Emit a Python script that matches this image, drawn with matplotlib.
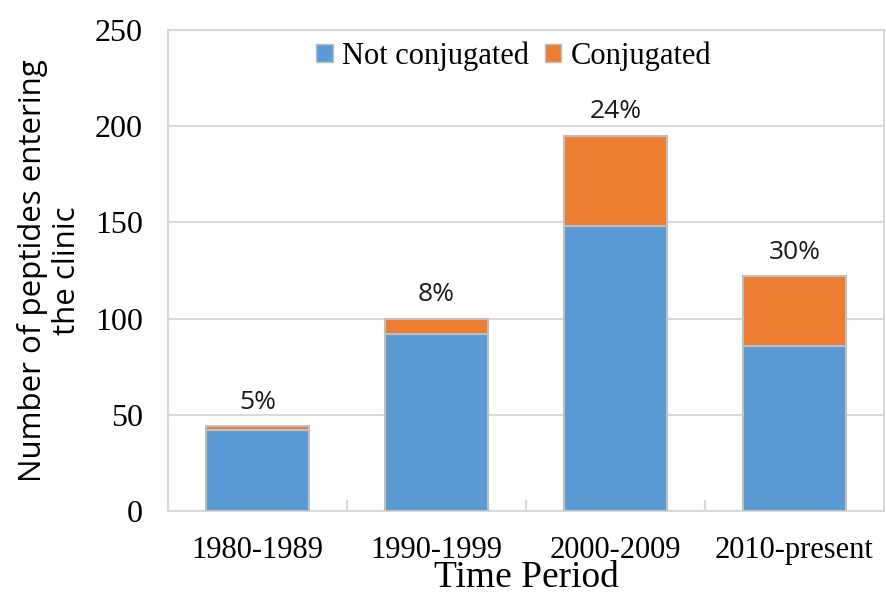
import numpy as np
import matplotlib
matplotlib.use('Agg')
import matplotlib.pyplot as plt
from matplotlib.ticker import FixedLocator, NullFormatter

# Data
periods = ["1980-1989", "1990-1999", "2000-2009", "2010-present"]
not_conjugated = [42, 92, 148, 86]
conjugated = [2, 8, 47, 36]
pct_labels = ["5%", "8%", "24%", "30%"]

blue = "#5B9BD5"
orange = "#ED7D31"
edge = "#BFBFBF"
grid_c = "#D9D9D9"

fig = plt.figure(figsize=(8.87, 5.94), dpi=100)
ax = fig.add_axes([168/887, 1 - 511/594, (884 - 168)/887, (511 - 30)/594])

x = np.arange(len(periods))
w = 0.57
ax.bar(x, not_conjugated, w, color=blue, edgecolor=edge, linewidth=1.5,
       label="Not conjugated", zorder=3)
ax.bar(x, conjugated, w, bottom=not_conjugated, color=orange, edgecolor=edge,
       linewidth=1.5, label="Conjugated", zorder=3)

totals = [a + b for a, b in zip(not_conjugated, conjugated)]
for xi, t, lab in zip(x, totals, pct_labels):
    ax.text(xi, t + 12.5, lab, ha="center", va="center", fontsize=19,
            family="Open Sans", color="#1a1a1a")

ax.set_xlim(-0.5, len(periods) - 0.5)
ax.set_ylim(0, 250)
ax.set_yticks(np.arange(0, 251, 50))
ax.yaxis.grid(True, color=grid_c, linewidth=1.5, zorder=0)
ax.set_axisbelow(True)

for s in ax.spines.values():
    s.set_color(grid_c)
    s.set_linewidth(1.5)

ax.set_xticks(x)
ax.set_xticklabels(periods, family="Liberation Serif", fontsize=22)
ax.xaxis.set_minor_locator(FixedLocator(np.arange(0.5, len(periods) - 1, 1.0)))
ax.xaxis.set_minor_formatter(NullFormatter())
ax.tick_params(axis="x", which="major", length=0, pad=18)
ax.tick_params(axis="x", which="minor", direction="in", length=8, width=1.5, color=grid_c)
ax.tick_params(axis="y", length=0, pad=18, labelsize=23)
for t in ax.get_yticklabels():
    t.set_family("Liberation Serif")

ax.set_xlabel("Time Period", family="Liberation Serif", fontsize=27, labelpad=-3)
ax.set_ylabel("Number of peptides entering\nthe clinic", family="Open Sans",
              fontsize=22.5, linespacing=1.2, labelpad=9)

leg = ax.legend(loc="upper center", bbox_to_anchor=(0.483, 1.015), ncol=2, frameon=False,
                prop={"family": "Liberation Serif", "size": 22},
                handlelength=0.55, handleheight=0.55, handletextpad=0.3,
                columnspacing=0.5, borderaxespad=0.2)
for h in leg.legend_handles:
    h.set_edgecolor(edge)
    h.set_linewidth(1.0)

plt.savefig("out.png", dpi=100)
